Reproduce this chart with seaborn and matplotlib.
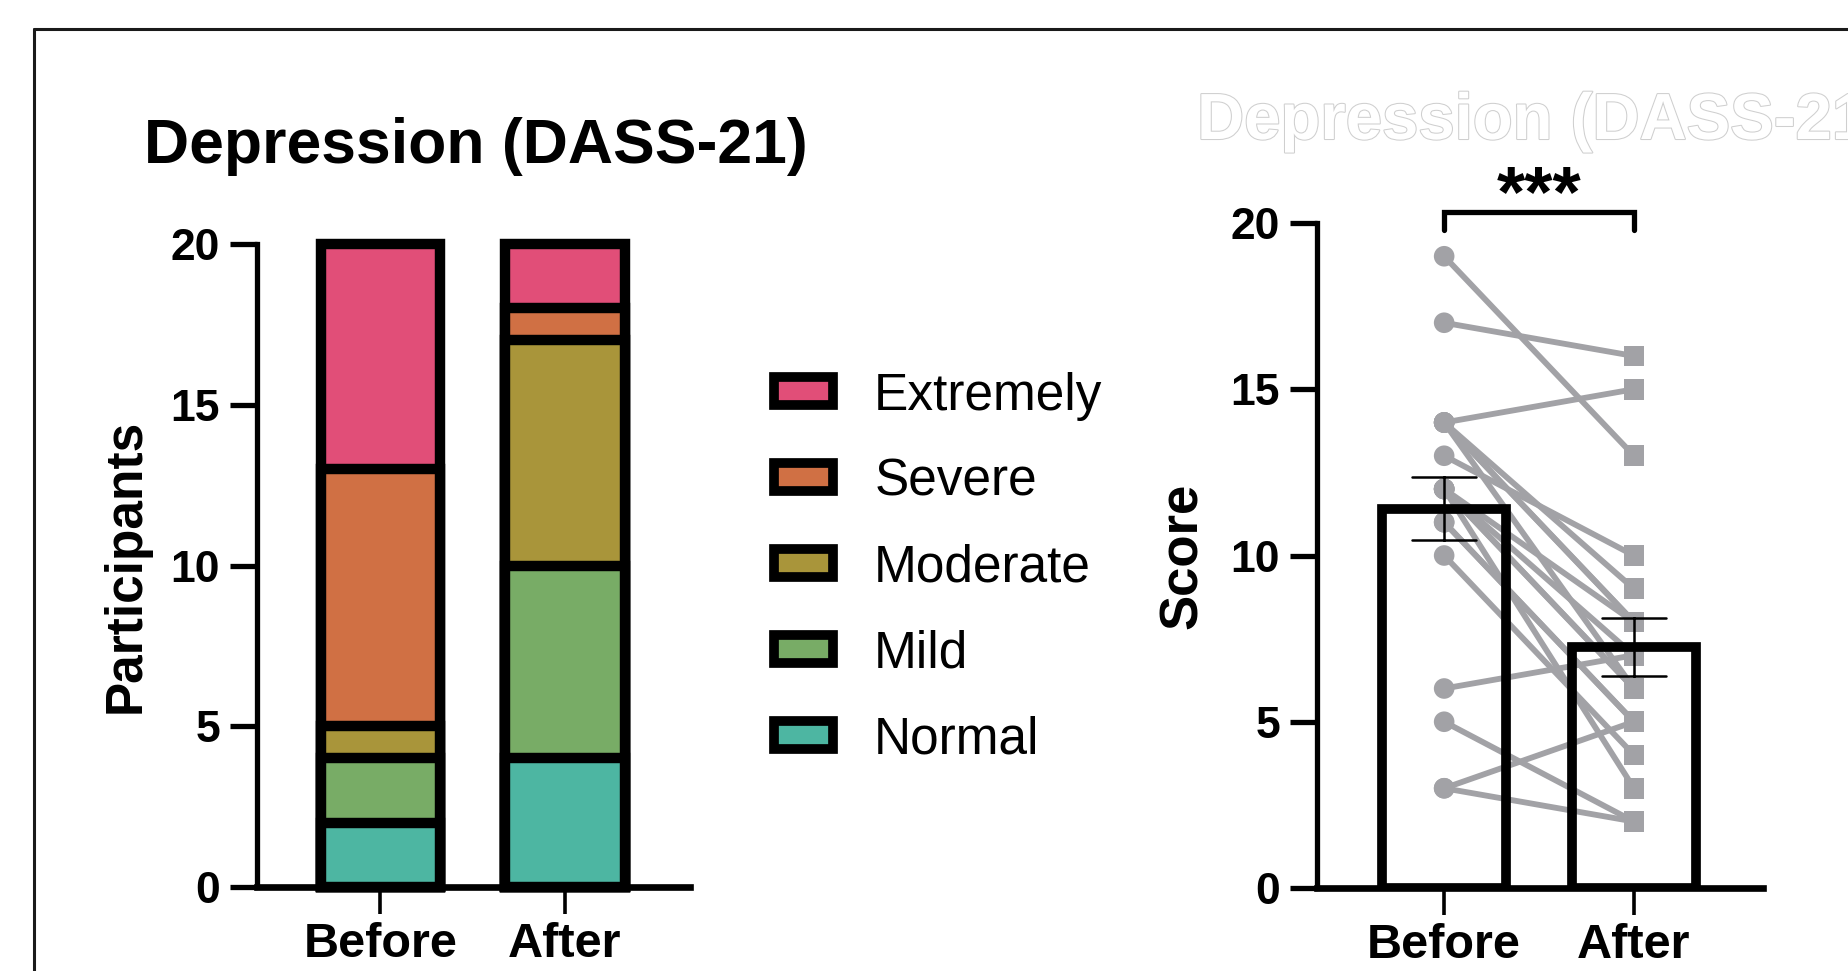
import numpy as np
import pandas as pd
import matplotlib
matplotlib.use("Agg")
import matplotlib.pyplot as plt
import seaborn as sns
from matplotlib.patches import Patch
from matplotlib.lines import Line2D
from matplotlib import patheffects

# Dados
grupos = ["Before", "After"]
niveis = ["Normal", "Mild", "Moderate", "Severe", "Extremely"]
contagem_before = [2, 2, 1, 8, 7]
contagem_after = [4, 6, 7, 1, 2]
cores_niveis = ["#4DB6A2", "#78AC66", "#A9953A", "#D07044", "#E14E78"]

# Escores individuais pareados (Before -> After)
escores_before = [19, 17, 14, 14, 14, 14, 14, 13, 11, 12, 12, 12, 12, 12, 11, 10, 6, 5, 3, 3]
escores_after = [13, 16, 15, 8, 9, 8, 6, 10, 5, 8, 7, 6, 6, 3, 5, 4, 7, 2, 5, 2]

cinza = "#A2A2A6"

sns.set_style("ticks")
plt.rcParams["font.family"] = ["Liberation Sans", "DejaVu Sans"]
plt.rcParams.update({
    "text.color": "black",
    "axes.labelcolor": "black",
    "axes.edgecolor": "black",
    "xtick.color": "black",
    "ytick.color": "black",
})

W, H = 1849, 971
fig = plt.figure(figsize=(W / 100, H / 100), dpi=100)
ax1 = fig.add_axes([257 / W, 1 - 887 / H, 433 / W, 643 / H])
ax2 = fig.add_axes([1317 / W, 1 - 888 / H, 446 / W, 665 / H])

# ---- Painel esquerdo: barras empilhadas ----
acum_before = np.cumsum(contagem_before)
acum_after = np.cumsum(contagem_after)
for i in reversed(range(len(niveis))):
    df_nivel = pd.DataFrame({"grupo": grupos, "valor": [acum_before[i], acum_after[i]]})
    sns.barplot(data=df_nivel, x="grupo", y="valor", order=grupos, color=cores_niveis[i],
                saturation=1, edgecolor="black", linewidth=7.5, width=0.65, ax=ax1)
for p in ax1.patches:
    p.set_clip_on(False)

ax1.set_ylim(0, 20)
ax1.set_xlim(-0.67, 1.68)
ax1.set_yticks([0, 5, 10, 15, 20])
ax1.set_xlabel("")
ax1.set_ylabel("Participants", fontsize=37, fontweight="bold")
ax1.yaxis.set_label_coords(-0.245, 0.5)

handles = [Patch(facecolor=cores_niveis[i], edgecolor="black", linewidth=7) for i in reversed(range(5))]
labels = [niveis[i] for i in reversed(range(5))]
ax1.legend(handles, labels, loc="center left", bbox_to_anchor=(774 / W, 1 - 568 / H),
           bbox_transform=fig.transFigure, frameon=False, fontsize=37,
           handlelength=1.15, handleheight=0.47, handletextpad=0.8,
           labelspacing=0.72, borderpad=0, borderaxespad=0)

# ---- Painel direito: barras com pontos pareados ----
n = len(escores_before)
df = pd.DataFrame({
    "sujeito": list(range(n)) * 2,
    "tempo": ["Before"] * n + ["After"] * n,
    "pos": [0] * n + [1] * n,
    "score": escores_before + escores_after,
})

sns.lineplot(data=df, x="pos", y="score", units="sujeito", estimator=None,
             color=cinza, linewidth=4.2, legend=False, ax=ax2)
sns.scatterplot(data=df, x="pos", y="score", style="tempo",
                markers={"Before": "o", "After": "s"}, color=cinza, s=220,
                linewidth=0, legend=False, zorder=3, ax=ax2)
sns.barplot(data=df, x="tempo", y="score", order=grupos, errorbar="se", capsize=0.34,
            fill=False, color="black", linewidth=7, width=0.65,
            err_kws={"color": "black", "linewidth": 1.8, "zorder": 6}, zorder=5, ax=ax2)

ax2.set_ylim(0, 20)
ax2.set_xlim(-0.67, 1.68)
ax2.set_yticks([0, 5, 10, 15, 20])
ax2.set_xticks([0, 1], grupos)
ax2.set_xlabel("")
ax2.set_ylabel("Score", fontsize=38, fontweight="bold")
ax2.yaxis.set_label_coords(-0.245, 0.5)

# Colchete de significância
ax2.plot([0, 0, 1, 1], [19.8, 20.33, 20.33, 19.8], color="black", lw=3.8,
         clip_on=False, solid_joinstyle="miter", zorder=7)
ax2.text(0.5, 20.22, "***", ha="center", va="baseline", fontsize=52,
         fontweight="bold", clip_on=False)

# Estilo dos eixos
for ax in (ax1, ax2):
    sns.despine(ax=ax)
    ax.spines["left"].set_linewidth(3.8)
    ax.spines["bottom"].set_linewidth(4.8)
    ax.tick_params(axis="y", length=19.5, width=3.8, pad=7, labelsize=32)
    ax.tick_params(axis="x", length=19.5, width=2.6, pad=6, labelsize=35)
    for lab in ax.get_xticklabels() + ax.get_yticklabels():
        lab.set_fontweight("bold")
    ax.set_facecolor("none")

# Títulos
fig.text(144 / W, 1 - 163 / H, "Depression (DASS-21)", fontsize=45, fontweight="bold",
         va="baseline", ha="left")
fig.text(1197 / W, 1 - 139 / H, "Depression (DASS-21)", fontsize=47, fontweight="bold",
         va="baseline", ha="left", color="white",
         path_effects=[patheffects.withStroke(linewidth=1.5, foreground="#cfcfcf")])

# Moldura
fig.add_artist(Line2D([34 / W, 1], [1 - 29 / H, 1 - 29 / H], transform=fig.transFigure,
                      color="#1a1a1a", lw=2.2))
fig.add_artist(Line2D([34 / W, 34 / W], [0, 1 - 29 / H], transform=fig.transFigure,
                      color="#1a1a1a", lw=2.2))

fig.savefig("out.png", dpi=100)
